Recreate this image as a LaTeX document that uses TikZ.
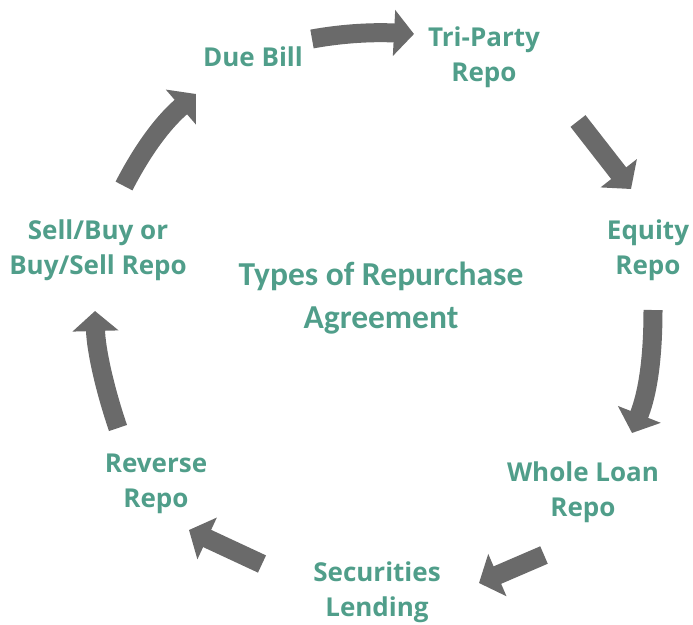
\documentclass[tikz,border=0pt]{standalone}
\usepackage{fontspec}
\setmainfont{Carlito}
\newfontfamily\labelfont{Open Sans}
\usetikzlibrary{arrows.meta}
\definecolor{repoteal}{RGB}{80,158,138}
\definecolor{arrowgray}{RGB}{106,106,106}
\tikzset{
  kind/.style={text=repoteal, align=center, inner sep=0pt,
    font=\labelfont\bfseries\fontsize{26}{35}\selectfont},
  hub/.style={text=repoteal, align=center, inner sep=0pt,
    font=\bfseries\fontsize{33.5}{43}\selectfont},
  cyclearrow/.style={draw=arrowgray, line width=19pt,
    -{Triangle[width=45pt,length=20pt]}}
}
\begin{document}
\begin{tikzpicture}[x=1pt,y=-1pt]
  \useasboundingbox (0,0) rectangle (693,624);

  % labels around the cycle
  \node[kind] (due)    at (253,57)  {Due Bill};
  \node[kind] (tri)    at (484,57)  {Tri-Party\\Repo};
  \node[kind] (equity) at (648,250) {Equity\\Repo};
  \node[kind] (whole)  at (583,492) {Whole Loan\\Repo};
  \node[kind] (sec)    at (377,592) {Securities\\Lending};
  \node[kind] (rev)    at (156,484) {Reverse\\Repo};
  \node[kind] (sell)   at (98,250)  {Sell/Buy or\\Buy/Sell Repo};
  \node[hub]  (types)  at (381,298) {Types of Repurchase\\Agreement};

  % arrow end points
  \coordinate (a1s) at (312,39);  \coordinate (a1e) at (414,34);
  \coordinate (a2s) at (578,121); \coordinate (a2e) at (631,189);
  \coordinate (a3s) at (653,310); \coordinate (a3e) at (632,433);
  \coordinate (a4s) at (544,555); \coordinate (a4e) at (479,583);
  \coordinate (a5s) at (262,564); \coordinate (a5e) at (189,530);
  \coordinate (a6s) at (118,428); \coordinate (a6e) at (95,311);
  \coordinate (a7s) at (124,186); \coordinate (a7e) at (196,94);

  % the cycle of arrows
  \draw[cyclearrow] (a1s) .. controls (345,33) and (375,32) .. (a1e);
  \draw[cyclearrow] (a2s) -- (a2e);
  \draw[cyclearrow] (a3s) .. controls (653,370) and (645,400) .. (a3e);
  \draw[cyclearrow] (a4s) -- (a4e);
  \draw[cyclearrow] (a5s) -- (a5e);
  \draw[cyclearrow] (a6s) .. controls (105,390) and (96,350) .. (a6e);
  \draw[cyclearrow] (a7s) .. controls (140,155) and (160,125) .. (a7e);
\end{tikzpicture}
\end{document}
